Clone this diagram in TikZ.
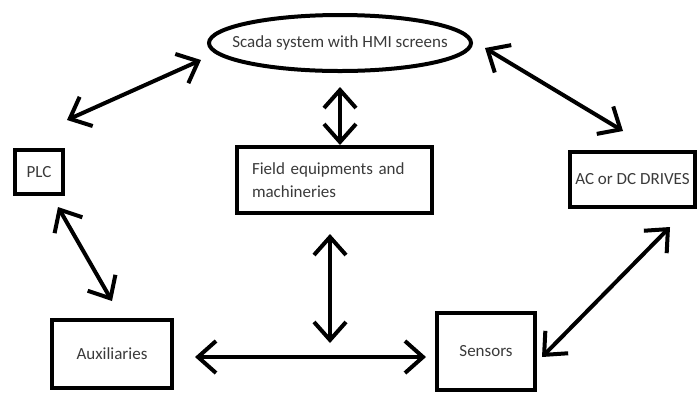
\documentclass[tikz,border=0pt]{standalone}
\usepackage{fontspec}
\setmainfont{Carlito}
\usepackage{tikz}
\usetikzlibrary{arrows.meta, shapes.geometric, positioning, calc}
\definecolor{txtgray}{HTML}{3A3A3A}

\begin{document}
\begin{tikzpicture}[x=1pt, y=-1pt,
  >={Straight Barb[length=18pt 0, width=32pt 0]}, line width=4pt,
  block/.style={draw, rectangle, line width=4pt, inner sep=0pt,
                font=\fontsize{17}{21}\selectfont, text=txtgray, align=center},
  link/.style={<->, line width=4pt}]
  \useasboundingbox (0,0) rectangle (700,392);
  \node[block, ellipse, inner xsep=-16pt, minimum width=262pt, minimum height=56pt]
    (scada) at (340,43) {Scada system with HMI screens};
  \node[block, minimum width=48pt, minimum height=44pt] (plc) at (39,172) {PLC};
  \node[block, minimum width=195pt, minimum height=66pt, text width=165pt,
        align=left] (field) at (334.5,180) {Field equipments and\\[2pt] machineries};
  \node[block, minimum width=125pt, minimum height=55pt] (drives) at (632.5,179.5)
    {AC or DC DRIVES};
  \node[block, minimum width=120pt, minimum height=68pt] (aux) at (112,354) {Auxiliaries};
  \node[block, minimum width=98pt, minimum height=77pt] (sensors) at (486,351.5) {Sensors};
  \coordinate (junc) at (330,343);

  \draw[link] ([xshift=-6pt, yshift=-17pt]scada.west) -- ([xshift=2pt, yshift=28pt]plc.north east);
  \draw[link] ([yshift=-14pt]scada.south) -- (scada.south |- field.north);
  \draw[link] ([xshift=12pt, yshift=-5pt]scada.east) -- ([xshift=-9.5pt, yshift=19pt]drives.north);
  \draw[link] ([xshift=19pt, yshift=-11pt]plc.south) -- ([yshift=17pt]aux.north);
  \draw[link] ([xshift=-4.5pt, yshift=-19pt]field.south) -- (junc);
  \draw[link] ([xshift=21pt, yshift=-3pt]aux.east) -- ([xshift=-9pt, yshift=-5.5pt]sensors.west);
  \draw[link] ([xshift=5pt, yshift=-5.5pt]sensors.east) -- ([xshift=37.5pt, yshift=-18pt]drives.south);
\end{tikzpicture}
\end{document}
